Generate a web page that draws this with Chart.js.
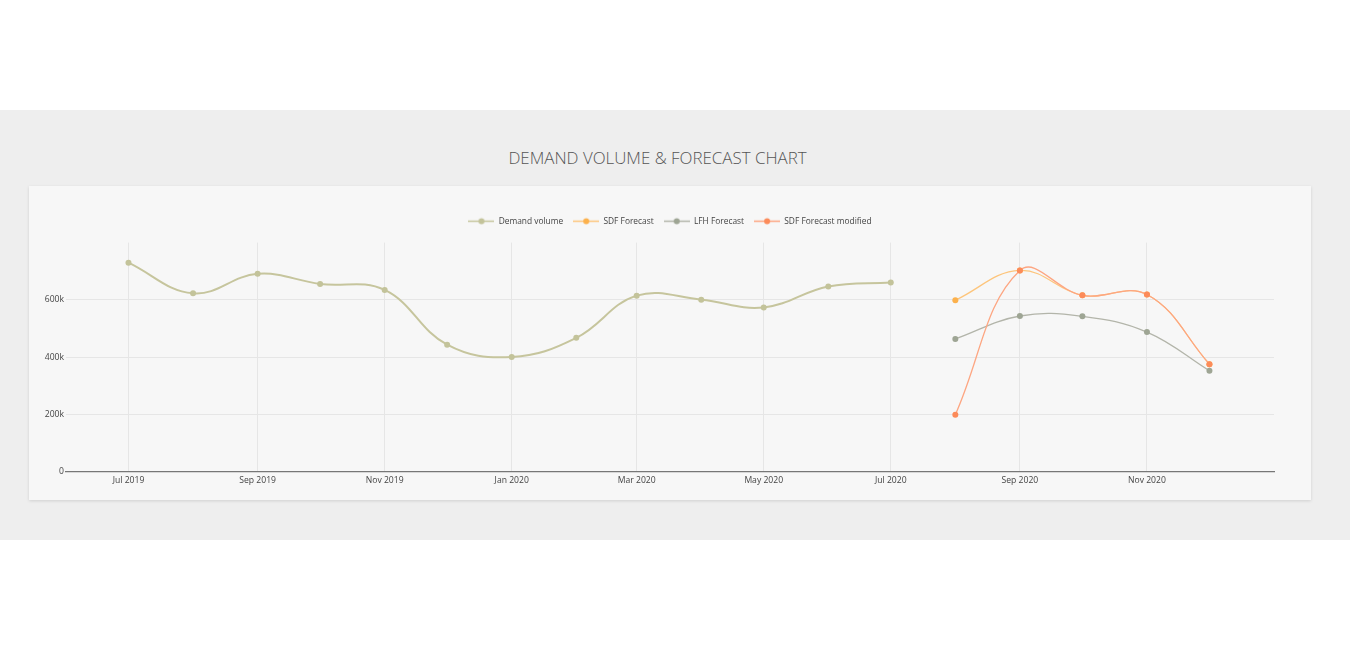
<!DOCTYPE html>
<html>
<head>
<meta charset="utf-8">
<script src="https://cdn.jsdelivr.net/npm/chart.js@4"></script>
<style>
  html, body { margin: 0; padding: 0; background: #ffffff; width: 1350px; height: 650px; overflow: hidden; }
  #band { position: absolute; left: 0; top: 110px; width: 1350px; height: 430px; background: #eeeeee; }
  #title { position: absolute; left: 0; top: 146px; width: 1315px; text-align: center;
    font-family: "Open Sans", "Lato", sans-serif; font-weight: 300; font-size: 16.9px; color: #555; letter-spacing: 0px; }
  #card { position: absolute; left: 29px; top: 186px; width: 1282px; height: 314px; background: #f7f7f7;
    box-shadow: 0 1px 3px rgba(0,0,0,0.13); }
  #card canvas { display: block; }
</style>
</head>
<body>
<div id="band"></div>
<div id="title">DEMAND VOLUME &amp; FORECAST CHART</div>
<div id="card"><canvas id="c" width="1282" height="314"></canvas></div>
<script>
// ---- data ----
const demandMonths = ['2019-07','2019-08','2019-09','2019-10','2019-11','2019-12','2020-01','2020-02','2020-03','2020-04','2020-05','2020-06','2020-07'];
const demandValues = [730000, 623000, 691000, 656000, 635000, 444000, 401000, 468000, 615000, 601000, 574000, 647000, 661000];

const forecastMonths = ['2020-08','2020-09','2020-10','2020-11','2020-12'];
const sdfForecast = [599000, 703000, 616000, 619000, 376000];
const lfhForecast = [464000, 544000, 543000, 488000, 353000];
const sdfModified = [200000, 703000, 616000, 619000, 376000];

const seriesNames = ['Demand volume', 'SDF Forecast', 'LFH Forecast', 'SDF Forecast modified'];
const xTickMonths = ['2019-07','2019-09','2019-11','2020-01','2020-03','2020-05','2020-07','2020-09','2020-11'];
const xRange = ['2019-06','2021-01'];
const yTickValues = [0, 200000, 400000, 600000];
const yMax = 800000;
const monthNames = ['Jan','Feb','Mar','Apr','May','Jun','Jul','Aug','Sep','Oct','Nov','Dec'];

// ---- helpers ----
const ts = m => { const [y, mo] = m.split('-').map(Number); return Date.UTC(y, mo - 1, 1); };
const pts = (months, vals) => months.map((m, i) => ({ x: ts(m), y: vals[i] }));
const fmtMonth = v => { const d = new Date(v); return monthNames[d.getUTCMonth()] + ' ' + d.getUTCFullYear(); };

const lineColors  = ['#c6c59d', '#fdc57c', '#b3b5aa', '#fda682'];
const pointColors = ['#c3c39a', '#fcb14c', '#9ea594', '#fc8b5a'];
const lineWidths  = [2, 1.3, 1.3, 1.3];

function legendIcon(i) {
  const cv = document.createElement('canvas');
  cv.width = 26; cv.height = 9;
  const g = cv.getContext('2d');
  g.strokeStyle = lineColors[i]; g.lineWidth = 1.5;
  g.beginPath(); g.moveTo(0, 4.5); g.lineTo(26, 4.5); g.stroke();
  g.fillStyle = pointColors[i];
  g.beginPath(); g.arc(13, 4.5, 3, 0, Math.PI * 2); g.fill();
  return cv;
}
const icons = seriesNames.map((_, i) => legendIcon(i));

function ds(i, data, order) {
  return {
    label: seriesNames[i], data,
    borderColor: lineColors[i], backgroundColor: pointColors[i],
    pointBackgroundColor: pointColors[i], pointBorderColor: pointColors[i],
    pointRadius: 3, pointBorderWidth: 0, pointHoverRadius: 4, borderWidth: lineWidths[i],
    tension: 0.4, fill: false, order
  };
}

const FONT = '"Open Sans", "Noto Sans", sans-serif';

// center the legend on the whole card rather than on the padded area
const centerLegend = {
  id: 'centerLegend',
  afterLayout(chart) {
    if (chart.legend) { chart.legend.left = 0; chart.legend.right = chart.width; }
  }
};

new Chart(document.getElementById('c'), {
  type: 'line',
  data: {
    datasets: [
      ds(0, pts(demandMonths, demandValues), 1),
      ds(1, pts(forecastMonths, sdfForecast), 2),
      ds(2, pts(forecastMonths, lfhForecast), 3),
      ds(3, pts(forecastMonths, sdfModified), 0)
    ]
  },
  plugins: [centerLegend],
  options: {
    responsive: false,
    animation: false,
    layout: { padding: { left: 0, right: 37, top: 21, bottom: 0 } },
    plugins: {
      legend: {
        position: 'top',
        weight: 3000,
        labels: {
          usePointStyle: true,
          pointStyleWidth: 26,
          padding: 10,
          color: '#444',
          font: { family: FONT, size: 8.4 },
          generateLabels(chart) {
            return chart.data.datasets.map((d, i) => ({
              text: d.label, datasetIndex: i, pointStyle: icons[i],
              fillStyle: pointColors[i], strokeStyle: lineColors[i], lineWidth: 0,
              hidden: false, fontColor: '#444'
            }));
          }
        }
      },
      title: { display: true, text: '', font: { size: 1 }, padding: { top: 6, bottom: 0 } },
      tooltip: { enabled: false }
    },
    scales: {
      x: {
        type: 'linear',
        min: ts(xRange[0]), max: ts(xRange[1]),
        afterBuildTicks: s => { s.ticks = xTickMonths.map(m => ({ value: ts(m) })); },
        afterFit: s => { s.height = 28; },
        ticks: { callback: v => fmtMonth(v), color: '#444', font: { family: FONT, size: 8.6 }, padding: 3, maxRotation: 0, autoSkip: false },
        grid: { color: '#e6e6e6', drawTicks: false, lineWidth: 1 },
        border: { display: true, color: '#777', width: 1.3 }
      },
      y: {
        type: 'linear',
        min: 0, max: yMax,
        afterBuildTicks: s => { s.ticks = yTickValues.map(v => ({ value: v })); },
        afterFit: s => { s.width = 37; },
        ticks: { callback: v => v === 0 ? '0' : (v / 1000) + 'k', color: '#444', font: { family: FONT, size: 8.6 }, padding: 2 },
        grid: { color: ctx => ctx.tick && ctx.tick.value === 0 ? 'rgba(0,0,0,0)' : '#e6e6e6', drawTicks: false, lineWidth: 1 },
        border: { display: false }
      }
    }
  }
});
</script>
</body>
</html>
